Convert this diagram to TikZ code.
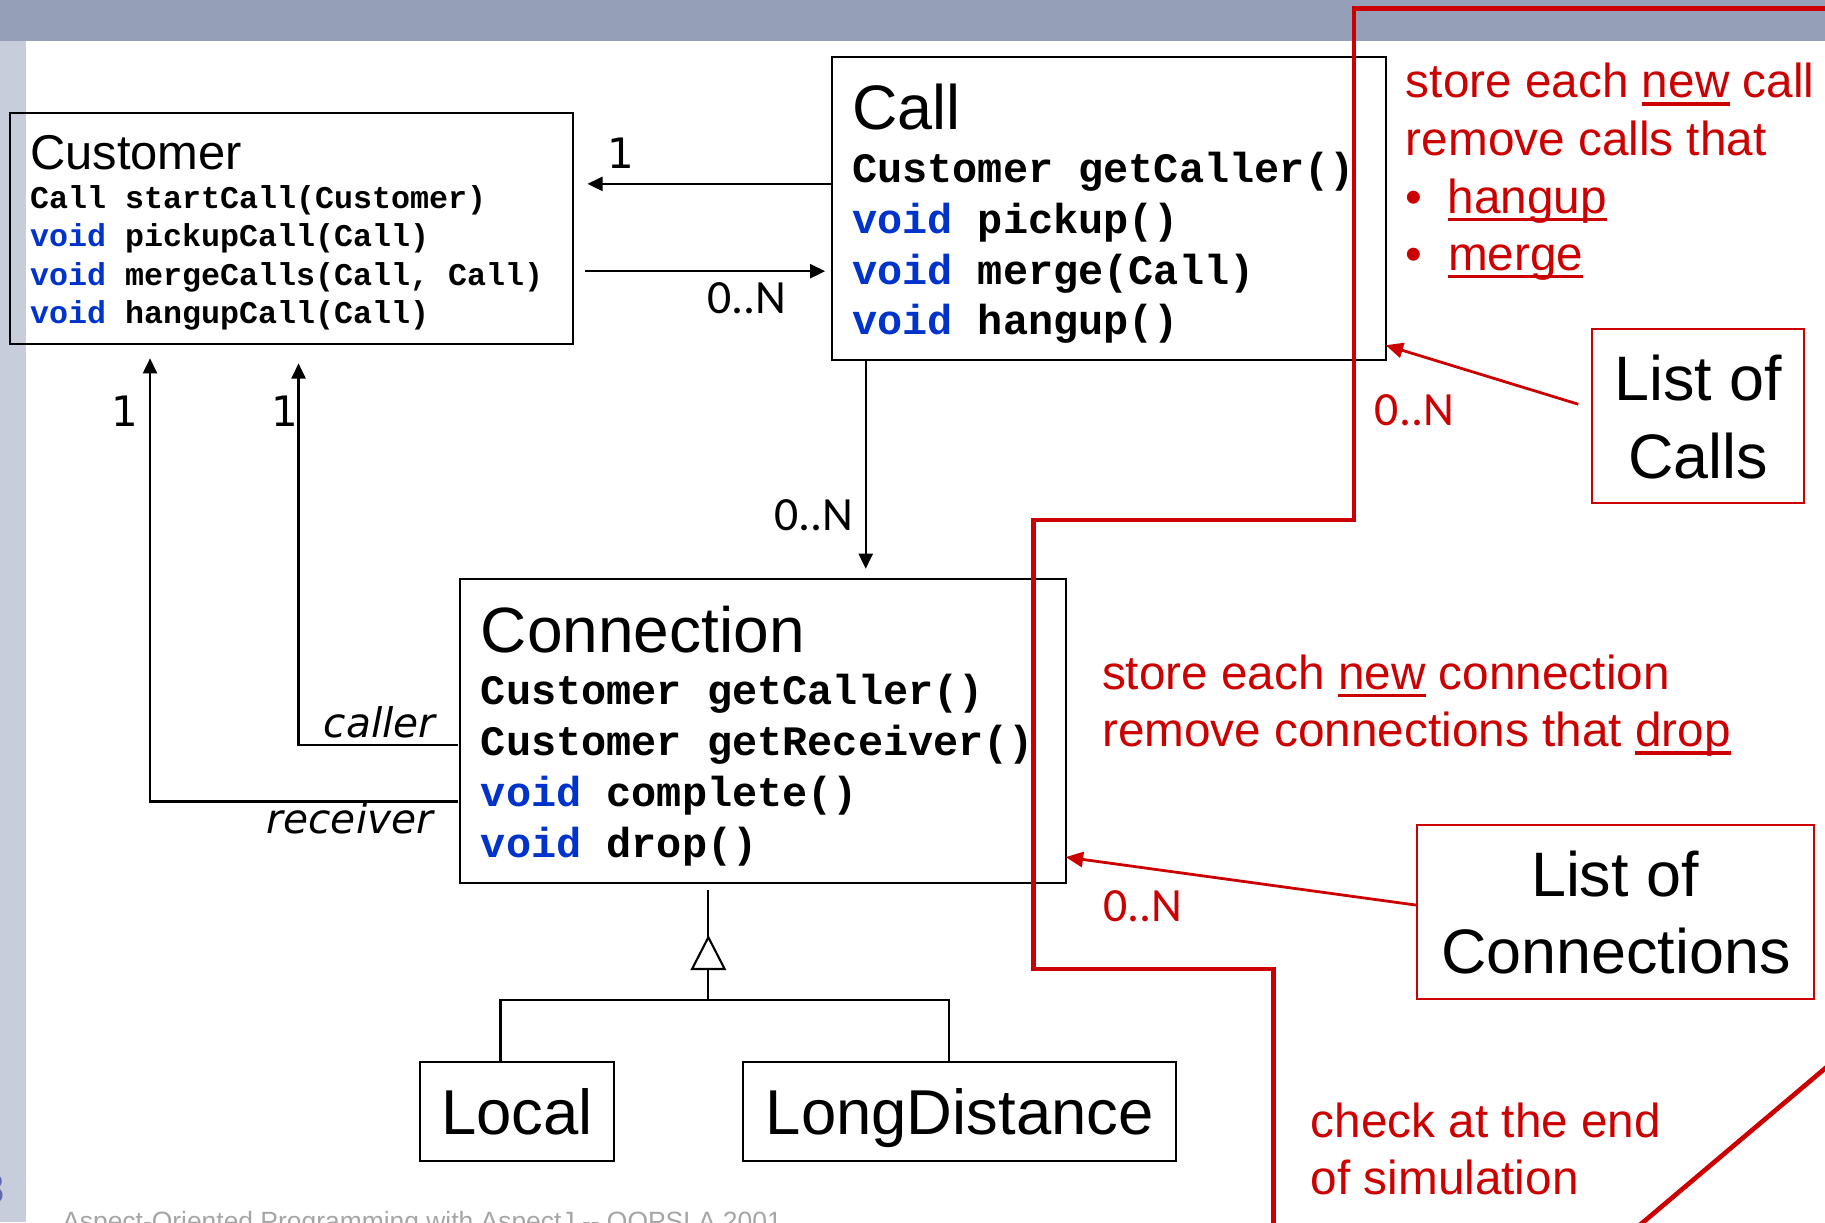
\documentclass[tikz,border=0pt]{standalone}
\usepackage{fontspec}
\setmainfont{Liberation Sans}
\setmonofont{Liberation Mono}
\newfontfamily\djvfont{DejaVu Sans}
\newfontfamily\carlfont{Carlito}
\usetikzlibrary{arrows.meta,calc}
\definecolor{band}{RGB}{149,160,184}
\definecolor{strip}{RGB}{200,205,220}
\definecolor{redc}{RGB}{204,0,0}
\definecolor{kw}{RGB}{0,51,204}
\definecolor{foot}{RGB}{165,165,165}
\definecolor{pnum}{RGB}{96,104,176}
\newcommand\fs[1]{\fontsize{#1pt}{#1pt}\selectfont}
\newcommand\kwv{\textcolor{kw}{void}}
\newsavebox\ulbox
\newcommand\ulx[1]{\sbox\ulbox{#1}\rlap{\rule[-7pt]{\wd\ulbox}{3pt}}\usebox\ulbox}
\begin{document}
\begin{tikzpicture}[x=1pt,y=-1pt,
  box/.style={draw=black,line width=1.7pt,inner sep=0pt,outer sep=0pt,anchor=north west},
  rbox/.style={draw=redc,line width=1.8pt,inner sep=0pt,outer sep=0pt,anchor=north west},
  txt/.style={inner sep=0pt,anchor=base west},
  ctxt/.style={inner sep=0pt,anchor=base},
  monos/.style={txt,font=\fs{27.2}\ttfamily\bfseries},
  monob/.style={txt,font=\fs{36}\ttfamily\bfseries},
  arr/.style={line width=2pt,-{Triangle[length=13pt,width=12pt]}},
  rarr/.style={draw=redc,line width=2.4pt,-{Triangle[length=15pt,width=13pt]}},
  redline/.style={draw=redc,line width=4pt},
  gen/.style={line width=1.8pt},
  rtxt/.style={txt,font=\fs{41},text=redc},
  one/.style={ctxt,font=\fs{36}\djvfont},
  mult/.style={ctxt,font=\fs{41}\carlfont},
  role/.style={txt,font=\fs{35}\djvfont\itshape}
]
\useasboundingbox (0,0) rectangle (1568,1050);
\clip (0,0) rectangle (1568,1050);
\fill[band] (0,0) rectangle (1568,35.2);
\fill[strip] (0,35.2) rectangle (22,1050);

% class boxes
\node[box,minimum width=484pt,minimum height=199pt] (cust) at (8.2,96.8) {};
\node[box,minimum width=476pt,minimum height=260.5pt] (call) at (714.5,48.7) {};
\node[box,minimum width=520pt,minimum height=260.7pt] (conn) at (395.6,497.7) {};
\node[box,minimum width=167.2pt,minimum height=85pt,font=\fs{54.5},text height=39pt,text depth=0pt] (local) at (360.5,912.8) {Local};
\node[box,minimum width=371.8pt,minimum height=85pt,font=\fs{54.5},text height=39pt,text depth=0pt] (ld) at (638.7,912.8) {LongDistance};

% Customer
\node[txt,font=\fs{42}] (custT) at (25.7,146) {Customer};
\node[monos] (cm1) at (25.7,179) {Call startCall(Customer)};
\node[monos] (cm2) at (25.7,212) {\kwv{} pickupCall(Call)};
\node[monos] (cm3) at (25.7,245) {\kwv{} mergeCalls(Call, Call)};
\node[monos] (cm4) at (25.7,278) {\kwv{} hangupCall(Call)};

% Call
\node[txt,font=\fs{54}] (callT) at (732,111) {Call};
\node[monob] (k1) at (732,157) {Customer getCaller()};
\node[monob] (k2) at (732,200.5) {\kwv{} pickup()};
\node[monob] (k3) at (732,244) {\kwv{} merge(Call)};
\node[monob] (k4) at (732,287.5) {\kwv{} hangup()};

% Connection
\node[txt,font=\fs{55}] (connT) at (413,561) {Connection};
\node[monob] (n1) at (413,605.5) {Customer getCaller()};
\node[monob] (n2) at (413,649) {Customer getReceiver()};
\node[monob] (n3) at (413,693) {\kwv{} complete()};
\node[monob] (n4) at (413,737) {\kwv{} drop()};

% helper coordinates
\coordinate (ya) at (0,158);
\coordinate (yb) at (0,233);
\coordinate (xv) at (743.8,0);
\coordinate (yr) at (0,688.5);
\coordinate (xr) at (128.9,0);
\coordinate (yc) at (0,640);
\coordinate (xc) at (256.5,0);
\coordinate (gx) at (608.6,0);
\coordinate (gap) at (608.6,805.3);
\coordinate (gbase) at (608.6,832.5);
\coordinate (gbar) at (608.6,859.5);
\coordinate (lx) at (430,0);
\coordinate (rx) at (815,0);

% associations
\draw[arr,shorten >=12.5pt] (call.west |- ya) -- (cust.east |- ya);
\draw[arr,shorten <=10.8pt,shorten >=5.5pt] (cust.east |- yb) -- (call.west |- yb);
\draw[arr,shorten >=9pt] (call.south -| xv) -- (conn.north -| xv);
\draw[arr,shorten <=2.5pt,shorten >=12pt] (conn.west |- yr) -| (cust.south -| xr);
\draw[arr,shorten <=2.5pt,shorten >=16.4pt] (conn.west |- yc) -| (cust.south -| xc);

\node[one] (l1) at (533.5,144.6) {1};
\node[one] (l2) at (107.4,366.6) {1};
\node[one] (l3) at (245,366.6) {1};
\node[mult] (m1) at (641.5,269) {0..N};
\node[mult] (m2) at (699,456) {0..N};
\node[role] (lc) at (278,634) {caller};
\node[role] (lr) at (229,716) {receiver};

% generalization
\draw[gen,shorten <=6.5pt] (conn.south -| gx) -- (gap);
\draw[gen,fill=white] (gap) -- ++(-14,27.2) -- ++(28,0) -- cycle;
\draw[gen] (gbase) -- (gbar);
\draw[gen] (local.north -| lx) |- (gbar) -| (ld.north -| rx);

% red annotations
\draw[redline] (1580,7.2) -- (1163.3,7.2) -- (1163.3,446.8) -- (887.8,446.8) -- (887.8,832.5) -- (1094.3,832.5) -- (1094.3,1060);
\draw[redline] (1583.6,904.8) -- (1400,1060);

\node[rbox,minimum width=182.5pt,minimum height=149.2pt] (loc) at (1367.5,282.7) {};
\node[ctxt,font=\fs{54}] (loc1) at (1459.2,344.5) {List of};
\node[ctxt,font=\fs{54}] (loc2) at (1459.2,411) {Calls};
\node[rbox,minimum width=341.2pt,minimum height=149.8pt] (lcon) at (1217.3,708.8) {};
\node[ctxt,font=\fs{54}] (lcon1) at (1387.5,770.4) {List of};
\node[ctxt,font=\fs{54}] (lcon2) at (1388.4,836.3) {Connections};

\draw[rarr,shorten <=12pt] ([yshift=6.5pt]loc.west) -- ([yshift=12.6pt]call.south east);
\draw[rarr] ([yshift=6pt]lcon.west) -- ([yshift=22pt]conn.south east);
\node[mult,text=redc] (m3) at (1215.3,365.2) {0..N};
\node[mult,text=redc] (m4) at (981.7,792) {0..N};

\node[rtxt] (r1) at (1207.7,84) {store each \ulx{new} call};
\node[rtxt] (r2) at (1207.7,133.2) {remove calls that};
\node[rtxt] (b1) at (1207.5,183.3) {•};
\node[rtxt] (r3) at (1243.5,183.3) {\ulx{hangup}};
\node[rtxt] (b2) at (1207.5,232) {•};
\node[rtxt] (r4) at (1244,232) {\ulx{merge}};
\node[rtxt] (r5) at (946.7,592) {store each \ulx{new} connection};
\node[rtxt] (r6) at (946.7,641.5) {remove connections that \ulx{drop}};
\node[rtxt] (r7) at (1126,977) {check at the end};
\node[rtxt] (r8) at (1126,1026.7) {of simulation};

% footer
\node[txt,font=\fs{22.7},text=foot] (foot) at (53.3,1057) {Aspect-Oriented Programming with AspectJ {-}{-} OOPSLA 2001};
\node[inner sep=0pt,anchor=base east,font=\fs{36},text=pnum] (pg) at (4.5,1034) {8};
\end{tikzpicture}
\end{document}
